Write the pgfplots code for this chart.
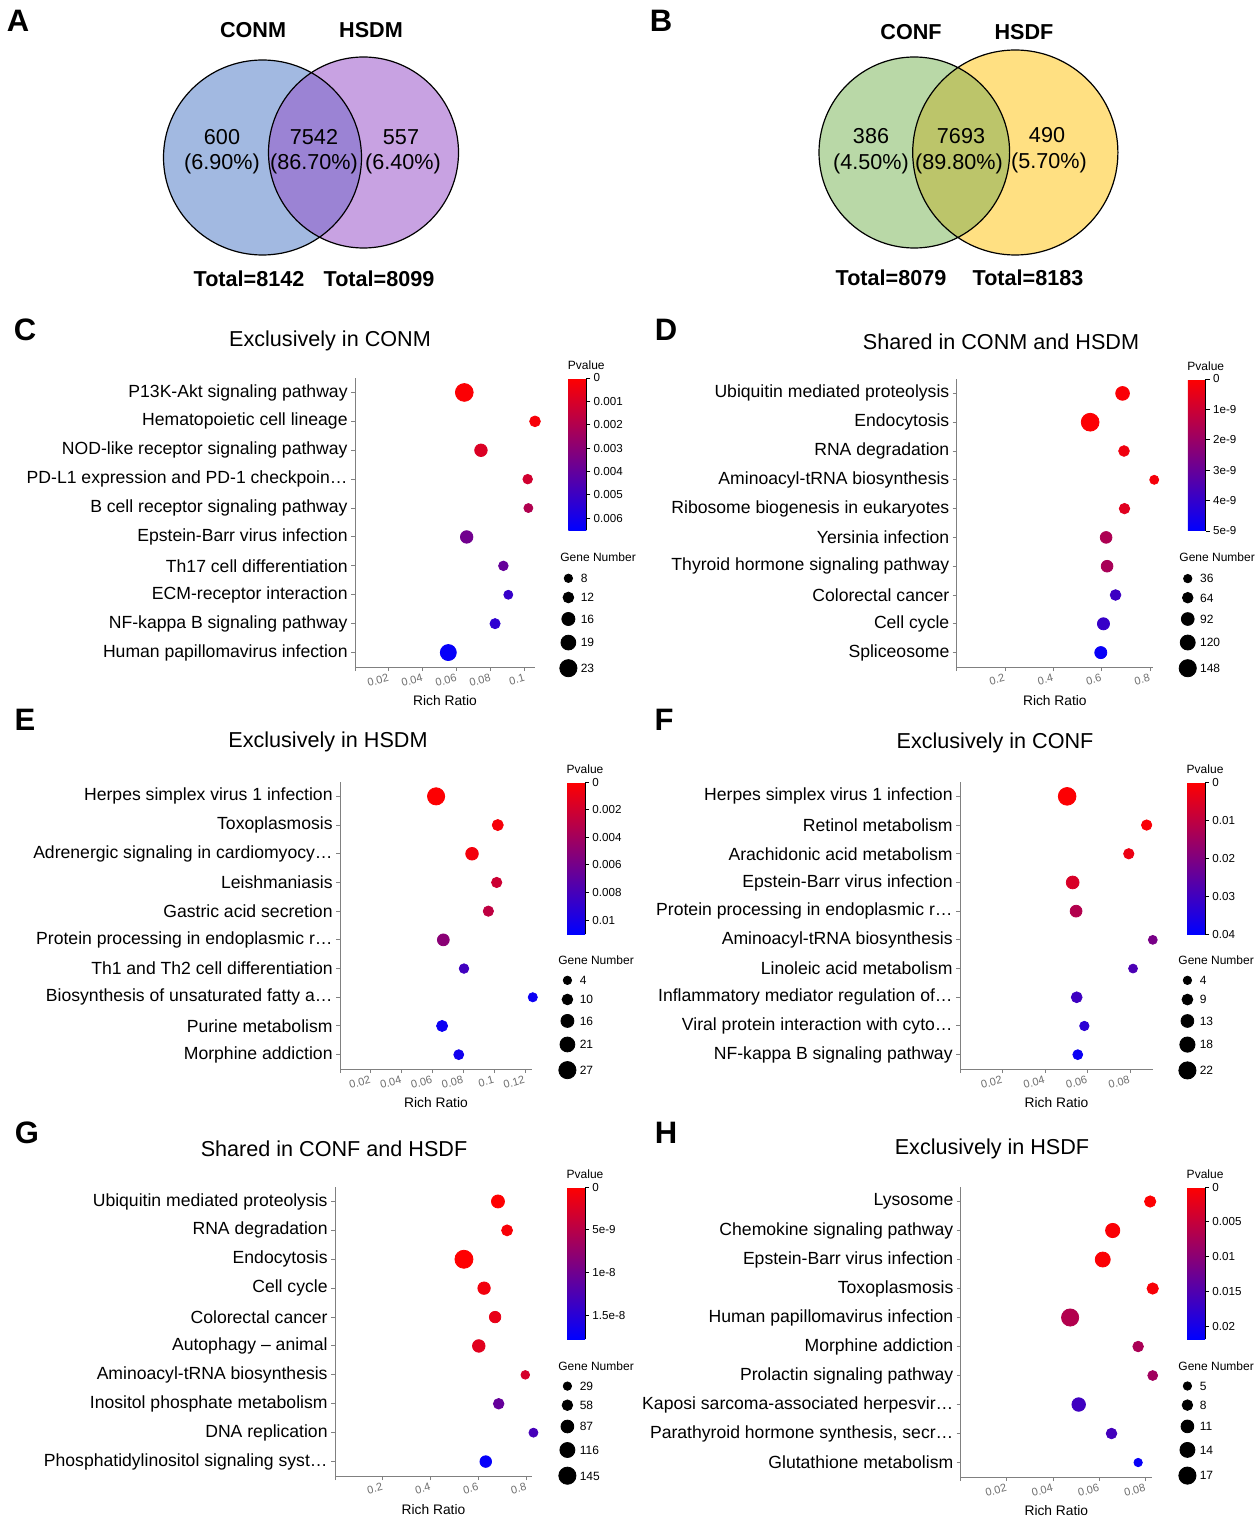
\documentclass[border=0pt]{standalone}
\usepackage{pgfplots}
\pgfplotsset{compat=1.18}
\usepackage{pgfplotstable}
\usepackage{fontspec}
\setmainfont{Liberation Sans}
\newcommand\fs[1]{\fontsize{#1}{#1}\selectfont}

\definecolor{axgray}{RGB}{128,128,128}
\definecolor{tickgray}{RGB}{110,110,110}
\definecolor{vA1}{RGB}{162,185,225}
\definecolor{vA2}{RGB}{200,162,226}
\definecolor{vA12}{RGB}{155,131,212}
\definecolor{vB1}{RGB}{185,216,167}
\definecolor{vB2}{RGB}{255,224,130}
\definecolor{vB12}{RGB}{188,197,106}

% r = row from the top, x = rich ratio, p = p value, n = gene number
\pgfplotstableread{
r x p n
1 0.0643 0.0001 24
2 0.1059 0.0002 12
3 0.0741 0.0009 15
4 0.1016 0.0012 10
5 0.1020 0.0020 9
6 0.0657 0.0036 15
7 0.0873 0.0039 10
8 0.0902 0.0051 9
9 0.0824 0.0053 11
10 0.0549 0.0063 21
}\tabC
\pgfplotstableread{
r x p n
1 0.686 1e-10 104
2 0.552 5e-11 156
3 0.692 3e-10 65
4 0.817 2e-10 44
5 0.694 6e-10 62
6 0.618 1.6e-9 78
7 0.622 1.7e-9 78
8 0.657 3.8e-9 65
9 0.607 3.9e-9 83
10 0.596 4.8e-9 83
}\tabD
\pgfplotstableread{
r x p n
1 0.0623 0.0001 27
2 0.1023 0.0004 11
3 0.0856 0.0005 15
4 0.1016 0.0022 9
5 0.0962 0.0028 9
6 0.0670 0.0050 13
7 0.0804 0.0082 7
8 0.1250 0.0104 6
9 0.0662 0.0104 11
10 0.0770 0.0102 8
}\tabE
\pgfplotstableread{
r x p n
1 0.0504 0.0005 23
2 0.0878 0.0010 8
3 0.0794 0.0030 8
4 0.0530 0.0060 13
5 0.0546 0.0120 11
6 0.0907 0.0210 5
7 0.0814 0.0280 5
8 0.0549 0.0300 9
9 0.0585 0.0330 6
10 0.0554 0.0380 7
}\tabF
\pgfplotstableread{
r x p n
1 0.680 1e-10 90
2 0.718 5e-10 63
3 0.538 5e-11 156
4 0.622 9e-10 82
5 0.668 1.6e-9 69
6 0.600 2.1e-9 84
7 0.794 3.0e-9 32
8 0.683 1.07e-8 58
9 0.828 1.28e-8 37
10 0.629 1.73e-8 71
}\tabG
\pgfplotstableread{
r x p n
1 0.0819 0.0002 9
2 0.0657 0.0004 13
3 0.0614 0.0003 14
4 0.0830 0.0006 9
5 0.0473 0.0065 17
6 0.0767 0.0072 8
7 0.0830 0.0080 7
8 0.0510 0.0163 12
9 0.0652 0.0160 8
10 0.0767 0.0210 5
}\tabH

\pgfplotsset{
  bub/.style={
    scale only axis, anchor=south west, clip=false,
    axis x line*=bottom, axis y line*=left,
    axis line style={draw=axgray, line width=0.5pt},
    tick style={draw=axgray, line width=0.5pt},
    tick align=outside, major tick length=2pt,
    scaled x ticks=false,
    xmin=0, ymin=0.5, ymax=10.5, ytick={1,...,10},
    yticklabel style={font=\fs{8.8}, inner sep=1.5pt},
    xticklabel style={font=\fs{5.5}, text=tickgray, rotate=15, anchor=north east, inner sep=1pt},
    xlabel={Rich Ratio},
    xlabel style={font=\fs{6.9}, at={(axis description cs:0.5,0)}, anchor=center, yshift=-16.8pt},
    colormap={rb}{rgb255=(255,0,0) rgb255=(0,0,255)},
    point meta min=0,
    colorbar,
    colorbar style={
      scale only axis, at={(parent axis.north east)}, anchor=north west,
      width=9pt, height=76pt, y dir=reverse,
      axis x line=none, axis y line*=right,
      axis line style={black, line width=0.5pt},
      tick style={black, line width=0.5pt},
      tick align=outside, major tick length=2pt,
      scaled y ticks=false,
      yticklabel style={font=\fs{5.8}, inner sep=1.5pt},
      title={Pvalue},
      title style={font=\fs{6}, at={(axis description cs:1,1)}, anchor=south, inner sep=0pt, yshift=-2pt},
    },
    legend style={draw=none, fill=none, anchor=north west, inner sep=0pt, outer sep=0pt,
      row sep=4.4pt, column sep=1.6pt, font=\fs{6},
      nodes={inner sep=0pt, text height=4.3pt, text depth=0pt},
      cells={anchor=west}},
  },
  bubbles/.style 2 args={
    forget plot, scatter, only marks, mark=*,
    point meta=\thisrow{p},
    scatter/use mapped color={draw=mapped color, fill=mapped color},
    visualization depends on={\thisrow{n} \as \gn},
    scatter/@pre marker code/.append style={/tikz/mark size={2.1+2.2*(\gn-#1)/(#2-#1)}},
  },
  gleg/.style n args={3}{
    legend image code/.code={\path (-4.4pt,0pt) (4.4pt,0pt);
      \fill[black] (0pt,0pt) circle[radius={(2.1+2.2*(#1-#2)/(#3-#2))*1pt}];}},
  cbar/.style n args={3}{colorbar style={xshift=#1, ytick={#2}, yticklabels={#3}}},
}

\begin{document}
\begin{tikzpicture}[x=0.5pt,y=0.5pt]
\path[use as bounding box] (0,0) rectangle (1259,-1519);

% panel letters
\begin{scope}[every node/.style={font=\bfseries\fs{15.5}, anchor=center, inner sep=0pt}]
\node at (18,-21) {A};
\node at (661,-21) {B};
\node at (25,-330) {C};
\node at (666,-330) {D};
\node at (25,-720) {E};
\node at (664,-720) {F};
\node at (27,-1133) {G};
\node at (666,-1133) {H};
\end{scope}

% Venn A
\fill[vA1] (262.5,-157.5) ellipse[x radius=99,y radius=97.5];
\fill[vA2] (363.5,-152.5) ellipse[x radius=95,y radius=95.5];
\begin{scope}
\clip (262.5,-157.5) ellipse[x radius=99,y radius=97.5];
\fill[vA12] (363.5,-152.5) ellipse[x radius=95,y radius=95.5];
\end{scope}
\draw[line width=0.6pt] (262.5,-157.5) ellipse[x radius=99,y radius=97.5]
  (363.5,-152.5) ellipse[x radius=95,y radius=95.5];
% Venn B
\fill[vB1] (914.3,-152.5) ellipse[x radius=95.3,y radius=95.5];
\fill[vB2] (1015.3,-152.5) ellipse[x radius=102.6,y radius=102.5];
\begin{scope}
\clip (914.3,-152.5) ellipse[x radius=95.3,y radius=95.5];
\fill[vB12] (1015.3,-152.5) ellipse[x radius=102.6,y radius=102.5];
\end{scope}
\draw[line width=0.6pt] (914.3,-152.5) ellipse[x radius=95.3,y radius=95.5]
  (1015.3,-152.5) ellipse[x radius=102.6,y radius=102.5];

\begin{scope}[every node/.style={font=\bfseries\fs{10.8}, anchor=base, inner sep=0pt}]
\node at (253,-37.7) {CONM};
\node at (371,-37.7) {HSDM};
\node at (249,-286.7) {Total=8142};
\node at (379,-286.7) {Total=8099};
\node at (911,-39.7) {CONF};
\node at (1024,-39.7) {HSDF};
\node at (891,-285.7) {Total=8079};
\node at (1028,-285.7) {Total=8183};
\end{scope}
\begin{scope}[every node/.style={font=\fs{10.8}, anchor=base, inner sep=0pt}]
\node at (222,-144.7) {600};
\node at (222,-169.7) {(6.90\%)};
\node at (314,-144.7) {7542};
\node at (314,-169.7) {(86.70\%)};
\node at (401,-144.7) {557};
\node at (403,-169.7) {(6.40\%)};
\node at (871,-143.7) {386};
\node at (871,-169.7) {(4.50\%)};
\node at (961,-143.7) {7693};
\node at (959,-169.7) {(89.80\%)};
\node at (1047,-142.7) {490};
\node at (1049,-168.7) {(5.70\%)};
\end{scope}

% panel titles
\begin{scope}[every node/.style={font=\fs{10.8}, anchor=base, inner sep=0pt}]
\node at (330,-346.7) {Exclusively in CONM};
\node at (1001,-349.7) {Shared in CONM and HSDM};
\node at (328,-747.7) {Exclusively in HSDM};
\node at (995,-748.7) {Exclusively in CONF};
\node at (334,-1156.7) {Shared in CONF and HSDF};
\node at (992,-1154.7) {Exclusively in HSDF};
\end{scope}
\begin{scope}[every node/.style={font=\fs{6}, anchor=base west, inner sep=0pt}]
\node at (560,-561.3) {Gene Number};
\node at (1179,-561.3) {Gene Number};
\node at (558,-964.3) {Gene Number};
\node at (1178,-964.3) {Gene Number};
\node at (558,-1370.3) {Gene Number};
\node at (1178,-1370.3) {Gene Number};
\end{scope}

% C
\begin{axis}[bub, at={(177.5pt,-333.5pt)}, width=90pt, height=144.5pt,
  xmax=0.1059, xtick={0,0.02,0.04,0.06,0.08,0.1}, xticklabels={,0.02,0.04,0.06,0.08,0.1},
  yticklabels={Human papillomavirus infection, NF-kappa B signaling pathway, ECM-receptor interaction, Th17 cell differentiation, Epstein-Barr virus infection, B cell receptor signaling pathway, PD-L1 expression and PD-1 checkpoin…, NOD-like receptor signaling pathway, Hematopoietic cell lineage, P13K-Akt signaling pathway},
  point meta max=0.0065,
  cbar={8.1pt}{0,0.001,0.002,0.003,0.004,0.005,0.006}{0,0.001,0.002,0.003,0.004,0.005,0.006},
  legend style={at={(1.1344,0.3228)}}]
\addplot[bubbles={8}{23}] table[x=x, y expr=11-\thisrow{r}] {\tabC};
\addlegendimage{gleg={8}{8}{23}}\addlegendentry{8}
\addlegendimage{gleg={12}{8}{23}}\addlegendentry{12}
\addlegendimage{gleg={16}{8}{23}}\addlegendentry{16}
\addlegendimage{gleg={19}{8}{23}}\addlegendentry{19}
\addlegendimage{gleg={23}{8}{23}}\addlegendentry{23}
\end{axis}

% D
\begin{axis}[bub, at={(478.35pt,-333.5pt)}, width=98.15pt, height=144pt,
  xmax=0.812, xtick={0,0.2,0.4,0.6,0.8}, xticklabels={,0.2,0.4,0.6,0.8},
  yticklabels={Spliceosome, Cell cycle, Colorectal cancer, Thyroid hormone signaling pathway, Yersinia infection, Ribosome biogenesis in eukaryotes, Aminoacyl-tRNA biosynthesis, RNA degradation, Endocytosis, Ubiquitin mediated proteolysis},
  point meta max=5e-9,
  cbar={8.85pt}{0,1e-9,2e-9,3e-9,4e-9,5e-9}{0,1e-9,2e-9,3e-9,4e-9,5e-9},
  legend style={at={(1.130,0.3229)}}]
\addplot[bubbles={36}{148}] table[x=x, y expr=11-\thisrow{r}] {\tabD};
\addlegendimage{gleg={36}{36}{148}}\addlegendentry{36}
\addlegendimage{gleg={64}{36}{148}}\addlegendentry{64}
\addlegendimage{gleg={92}{36}{148}}\addlegendentry{92}
\addlegendimage{gleg={120}{36}{148}}\addlegendentry{120}
\addlegendimage{gleg={148}{36}{148}}\addlegendentry{148}
\end{axis}

% E
\begin{axis}[bub, at={(170pt,-534.5pt)}, width=96pt, height=143.5pt,
  xmax=0.1245, xtick={0,0.02,0.04,0.06,0.08,0.1,0.12}, xticklabels={,0.02,0.04,0.06,0.08,0.1,0.12},
  yticklabels={Morphine addiction, Purine metabolism, Biosynthesis of unsaturated fatty a…, Th1 and Th2 cell differentiation, Protein processing in endoplasmic r…, Gastric acid secretion, Leishmaniasis, Adrenergic signaling in cardiomyocy…, Toxoplasmosis, Herpes simplex virus 1 infection},
  point meta max=0.011,
  cbar={9pt}{0,0.002,0.004,0.006,0.008,0.01}{0,0.002,0.004,0.006,0.008,0.01},
  legend style={at={(1.1365,0.325)}}]
\addplot[bubbles={4}{27}] table[x=x, y expr=11-\thisrow{r}] {\tabE};
\addlegendimage{gleg={4}{4}{27}}\addlegendentry{4}
\addlegendimage{gleg={10}{4}{27}}\addlegendentry{10}
\addlegendimage{gleg={16}{4}{27}}\addlegendentry{16}
\addlegendimage{gleg={21}{4}{27}}\addlegendentry{21}
\addlegendimage{gleg={27}{4}{27}}\addlegendentry{27}
\end{axis}

% F
\begin{axis}[bub, at={(480pt,-534.5pt)}, width=96.5pt, height=143.5pt,
  xmax=0.0908, xtick={0,0.02,0.04,0.06,0.08}, xticklabels={,0.02,0.04,0.06,0.08},
  yticklabels={NF-kappa B signaling pathway, Viral protein interaction with cyto…, Inflammatory mediator regulation of…, Linoleic acid metabolism, Aminoacyl-tRNA biosynthesis, Protein processing in endoplasmic r…, Epstein-Barr virus infection, Arachidonic acid metabolism, Retinol metabolism, Herpes simplex virus 1 infection},
  point meta max=0.04,
  cbar={8.5pt}{0,0.01,0.02,0.03,0.04}{0,0.01,0.02,0.03,0.04},
  legend style={at={(1.1306,0.325)}}]
\addplot[bubbles={4}{22}] table[x=x, y expr=11-\thisrow{r}] {\tabF};
\addlegendimage{gleg={4}{4}{22}}\addlegendentry{4}
\addlegendimage{gleg={9}{4}{22}}\addlegendentry{9}
\addlegendimage{gleg={13}{4}{22}}\addlegendentry{13}
\addlegendimage{gleg={18}{4}{22}}\addlegendentry{18}
\addlegendimage{gleg={22}{4}{22}}\addlegendentry{22}
\end{axis}

% G
\begin{axis}[bub, at={(167.5pt,-738pt)}, width=98.5pt, height=144.5pt,
  xmax=0.822, xtick={0,0.2,0.4,0.6,0.8}, xticklabels={,0.2,0.4,0.6,0.8},
  yticklabels={Phosphatidylinositol signaling syst…, DNA replication, Inositol phosphate metabolism, Aminoacyl-tRNA biosynthesis, Autophagy – animal, Colorectal cancer, Cell cycle, Endocytosis, RNA degradation, Ubiquitin mediated proteolysis},
  point meta max=1.78e-8,
  cbar={9pt}{0,5e-9,1e-8,1.5e-8}{0,5e-9,1e-8,1.5e-8},
  legend style={at={(1.133,0.327)}}]
\addplot[bubbles={29}{145}] table[x=x, y expr=11-\thisrow{r}] {\tabG};
\addlegendimage{gleg={29}{29}{145}}\addlegendentry{29}
\addlegendimage{gleg={58}{29}{145}}\addlegendentry{58}
\addlegendimage{gleg={87}{29}{145}}\addlegendentry{87}
\addlegendimage{gleg={116}{29}{145}}\addlegendentry{116}
\addlegendimage{gleg={145}{29}{145}}\addlegendentry{145}
\end{axis}

% H
\begin{axis}[bub, at={(480.35pt,-738.5pt)}, width=95.65pt, height=145pt,
  xmax=0.0827, xtick={0,0.02,0.04,0.06,0.08}, xticklabels={,0.02,0.04,0.06,0.08},
  yticklabels={Glutathione metabolism, {Parathyroid hormone synthesis, secr…}, Kaposi sarcoma-associated herpesvir…, Prolactin signaling pathway, Morphine addiction, Human papillomavirus infection, Toxoplasmosis, Epstein-Barr virus infection, Chemokine signaling pathway, Lysosome},
  point meta max=0.0218,
  cbar={9pt}{0,0.005,0.01,0.015,0.02}{0,0.005,0.01,0.015,0.02},
  legend style={at={(1.137,0.3297)}}]
\addplot[bubbles={5}{17}] table[x=x, y expr=11-\thisrow{r}] {\tabH};
\addlegendimage{gleg={5}{5}{17}}\addlegendentry{5}
\addlegendimage{gleg={8}{5}{17}}\addlegendentry{8}
\addlegendimage{gleg={11}{5}{17}}\addlegendentry{11}
\addlegendimage{gleg={14}{5}{17}}\addlegendentry{14}
\addlegendimage{gleg={17}{5}{17}}\addlegendentry{17}
\end{axis}
\end{tikzpicture}
\end{document}
